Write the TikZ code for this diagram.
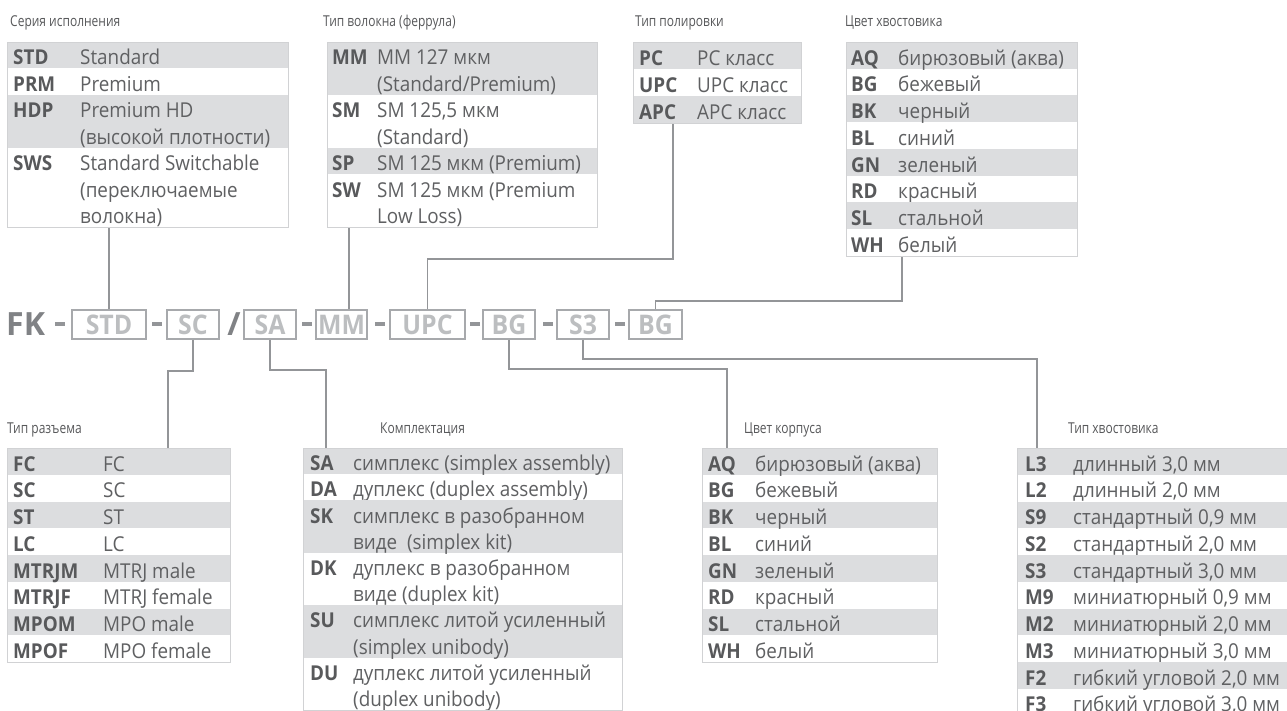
\documentclass[tikz,border=0pt]{standalone}
\usepackage{fontspec}
\setmainfont{Open Sans}
\newfontfamily\bodyfont[FakeStretch=0.92]{Open Sans}
\newfontfamily\titlefont[FakeStretch=0.8]{Open Sans}
\newfontfamily\boxfont[FakeStretch=0.92]{Open Sans}
\newfontfamily\fkfont{Open Sans}
\definecolor{rowgray}{HTML}{DCDDDF}
\definecolor{framecol}{HTML}{D1D2D4}
\definecolor{codecol}{HTML}{58595B}
\definecolor{desccol}{HTML}{5F6062}
\definecolor{titlecol}{HTML}{58595B}
\definecolor{conncol}{HTML}{939598}
\definecolor{boxcol}{HTML}{A7A9AC}
\definecolor{boxtxt}{HTML}{BCBEC0}
\definecolor{fkcol}{HTML}{808285}
\definecolor{dashcol}{HTML}{939598}
\tikzset{
  codetxt/.style={anchor=base west, inner sep=0pt, text=codecol, font=\bodyfont\bfseries\fontsize{20.5}{24}\selectfont},
  desctxt/.style={anchor=base west, inner sep=0pt, text=desccol, font=\bodyfont\fontsize{20.5}{24}\selectfont},
  ttl/.style={anchor=base west, inner sep=0pt, text=titlecol, font=\titlefont\fontsize{15}{18}\selectfont},
  tframe/.style={draw=framecol, line width=0.8pt, inner sep=0pt, anchor=north west},
  codebox/.style={draw=boxcol, line width=1.3pt, inner sep=0pt, minimum height=29pt, text=boxtxt, font=\boxfont\bfseries\fontsize{27}{30}\selectfont, text height=19.3pt, text depth=0pt},
  conn/.style={draw=conncol, line width=1.2pt},
  fktxt/.style={inner sep=0pt, text=fkcol, font=\fkfont\bfseries\fontsize{32}{34}\selectfont},
}
\newcounter{rowidx}
\newcommand\SetTable[7]{%
  \def\tbn{#1}\def\tbxl{#2}\def\tbxr{#3}\def\tbcx{#4}\def\tbdx{#5}%
  \def\tby{#6}\def\tbtop{#6}\def\tbL{#7}\setcounter{rowidx}{0}}
\newcommand\TRow[5]{%
  \stepcounter{rowidx}%
  \pgfmathsetmacro\tbnext{\tby+#1*\tbL}%
  \pgfmathsetmacro\tbbl{\tby+\tbL-3.6}%
  \ifodd\value{rowidx}\fill[rowgray] (\tbxl,\tby) rectangle (\tbxr,\tbnext);\fi
  \node[codetxt] (\tbn-c\arabic{rowidx}) at (\tbcx,\tbbl) {#2};
  \node[desctxt] (\tbn-d\arabic{rowidx}a) at (\tbdx,\tbbl) {#3};
  \ifx\relax#4\relax\else\node[desctxt] (\tbn-d\arabic{rowidx}b) at (\tbdx,\tbbl+\tbL) {#4};\fi
  \ifx\relax#5\relax\else\node[desctxt] (\tbn-d\arabic{rowidx}c) at (\tbdx,\tbbl+2*\tbL) {#5};\fi
  \let\tby\tbnext}
\newcommand\EndTable{%
  \pgfmathsetmacro\tbh{\tby-\tbtop}\pgfmathsetmacro\tbw{\tbxr-\tbxl}%
  \node[tframe, minimum width=\tbw pt, minimum height=\tbh pt] (\tbn) at (\tbxl,\tbtop) {};}
\begin{document}
\begin{tikzpicture}[x=1pt,y=-1pt]
\useasboundingbox (0,0) rectangle (1287,711);
\clip (0,0) rectangle (1287,711);
\fill[white] (0,0) rectangle (1287,711);

% titles
\node[ttl] (h1) at (10,27) {Серия исполнения};
\node[ttl] (h2) at (323,27) {Тип волокна (феррула)};
\node[ttl] (h3) at (635,27) {Тип полировки};
\node[ttl] (h4) at (845,27) {Цвет хвостовика};
\node[ttl] (h5) at (7,433) {Тип разъема};
\node[ttl] (h6) at (380,433) {Комплектация};
\node[ttl] (h7) at (744,433) {Цвет корпуса};
\node[ttl] (h8) at (1068,433) {Тип хвостовика};

% table 1
\SetTable{t1}{7}{288}{13}{80}{42}{26.5}
\TRow{1}{STD}{Standard}{}{}
\TRow{1}{PRM}{Premium}{}{}
\TRow{2}{HDP}{Premium HD}{(высокой плотности)}{}
\TRow{3}{SWS}{Standard Switchable}{(переключаемые}{волокна)}
\EndTable

% table 2
\SetTable{t2}{327}{597}{332}{377}{42}{26.5}
\TRow{2}{MM}{MM 127 мкм}{(Standard/Premium)}{}
\TRow{2}{SM}{SM 125,5 мкм}{(Standard)}{}
\TRow{1}{SP}{SM 125 мкм (Premium)}{}{}
\TRow{2}{SW}{SM 125 мкм (Premium}{Low Loss)}{}
\EndTable

% table 3
\SetTable{t3}{633}{801}{639}{697}{42}{27}
\TRow{1}{PC}{PC класс}{}{}
\TRow{1}{UPC}{UPC класс}{}{}
\TRow{1}{APC}{APC класс}{}{}
\EndTable

% table 4
\SetTable{t4}{846}{1077}{851}{898}{42}{26.75}
\TRow{1}{AQ}{бирюзовый (аква)}{}{}
\TRow{1}{BG}{бежевый}{}{}
\TRow{1}{BK}{черный}{}{}
\TRow{1}{BL}{синий}{}{}
\TRow{1}{GN}{зеленый}{}{}
\TRow{1}{RD}{красный}{}{}
\TRow{1}{SL}{стальной}{}{}
\TRow{1}{WH}{белый}{}{}
\EndTable

% table 5
\SetTable{t5}{7}{230}{13}{103}{448}{26.75}
\TRow{1}{FC}{FC}{}{}
\TRow{1}{SC}{SC}{}{}
\TRow{1}{ST}{ST}{}{}
\TRow{1}{LC}{LC}{}{}
\TRow{1}{MTRJM}{MTRJ male}{}{}
\TRow{1}{MTRJF}{MTRJ female}{}{}
\TRow{1}{MPOM}{MPO male}{}{}
\TRow{1}{MPOF}{MPO female}{}{}
\EndTable

% table 6
\SetTable{t6}{303}{622}{310}{353}{448}{26.2}
\TRow{1}{SA}{симплекс (simplex assembly)}{}{}
\TRow{1}{DA}{дуплекс (duplex assembly)}{}{}
\TRow{2}{SK}{симплекс в разобранном}{виде~~(simplex kit)}{}
\TRow{2}{DK}{дуплекс в разобранном}{виде (duplex kit)}{}
\TRow{2}{SU}{симплекс литой усиленный}{(simplex unibody)}{}
\TRow{2}{DU}{дуплекс литой усиленный}{(duplex unibody)}{}
\EndTable

% table 7
\SetTable{t7}{702}{937}{708}{755}{448}{26.75}
\TRow{1}{AQ}{бирюзовый (аква)}{}{}
\TRow{1}{BG}{бежевый}{}{}
\TRow{1}{BK}{черный}{}{}
\TRow{1}{BL}{синий}{}{}
\TRow{1}{GN}{зеленый}{}{}
\TRow{1}{RD}{красный}{}{}
\TRow{1}{SL}{стальной}{}{}
\TRow{1}{WH}{белый}{}{}
\EndTable

% table 8
\SetTable{t8}{1017}{1300}{1025}{1073}{448}{26.75}
\TRow{1}{L3}{длинный 3,0 мм}{}{}
\TRow{1}{L2}{длинный 2,0 мм}{}{}
\TRow{1}{S9}{стандартный 0,9 мм}{}{}
\TRow{1}{S2}{стандартный 2,0 мм}{}{}
\TRow{1}{S3}{стандартный 3,0 мм}{}{}
\TRow{1}{M9}{миниатюрный 0,9 мм}{}{}
\TRow{1}{M2}{миниатюрный 2,0 мм}{}{}
\TRow{1}{M3}{миниатюрный 3,0 мм}{}{}
\TRow{1}{F2}{гибкий угловой 2,0 мм}{}{}
\TRow{1}{F3}{гибкий угловой 3,0 мм}{}{}
\EndTable

% code row
\node[fktxt, anchor=base west] (fk) at (6,335) {FK};
\node[fktxt, anchor=base] (slash) at (234,335) {/};
\node[codebox, minimum width=74pt] (std) at (109,324.5) {STD};
\node[codebox, minimum width=52pt] (sc) at (193,324.5) {SC};
\node[codebox, minimum width=52pt] (sa) at (270,324.5) {SA};
\node[codebox, minimum width=51pt] (mm) at (341.5,324.5) {MM};
\node[codebox, minimum width=75pt] (upc) at (427.5,324.5) {UPC};
\node[codebox, minimum width=52pt] (bg) at (509,324.5) {BG};
\node[codebox, minimum width=52pt] (s3) at (583,324.5) {S3};
\node[codebox, minimum width=53pt] (bg2) at (655.5,324.5) {BG};
\foreach \dx in {55,152,302,375,470,543,615}
  \fill[dashcol] (\dx,322) rectangle (\dx+10,325.5);

% connectors
\draw[conn] (std.north) -- (std.north |- t1.south);
\draw[conn] ([xshift=7.5pt]mm.north) -- ([xshift=7.5pt]mm.north |- t2.south);
\coordinate (k3) at (673,259);
\draw[conn] (upc.north) |- (k3) -- (k3 |- t3.south);
\coordinate (k4) at (902,301);
\draw[conn] (bg2.north) |- (k4) -- (k4 |- t4.south);
\coordinate (k5) at (168,371);
\draw[conn] (sc.south) |- (k5) -- (k5 |- t5.north);
\coordinate (k6) at (326,370);
\draw[conn] (sa.south) |- (k6) -- (k6 |- t6.north);
\coordinate (k7) at (727,369);
\draw[conn] (bg.south) |- (k7) -- (k7 |- t7.north);
\coordinate (k8) at (1037,359);
\draw[conn] (s3.south) |- (k8) -- (k8 |- t8.north);
\end{tikzpicture}
\end{document}
